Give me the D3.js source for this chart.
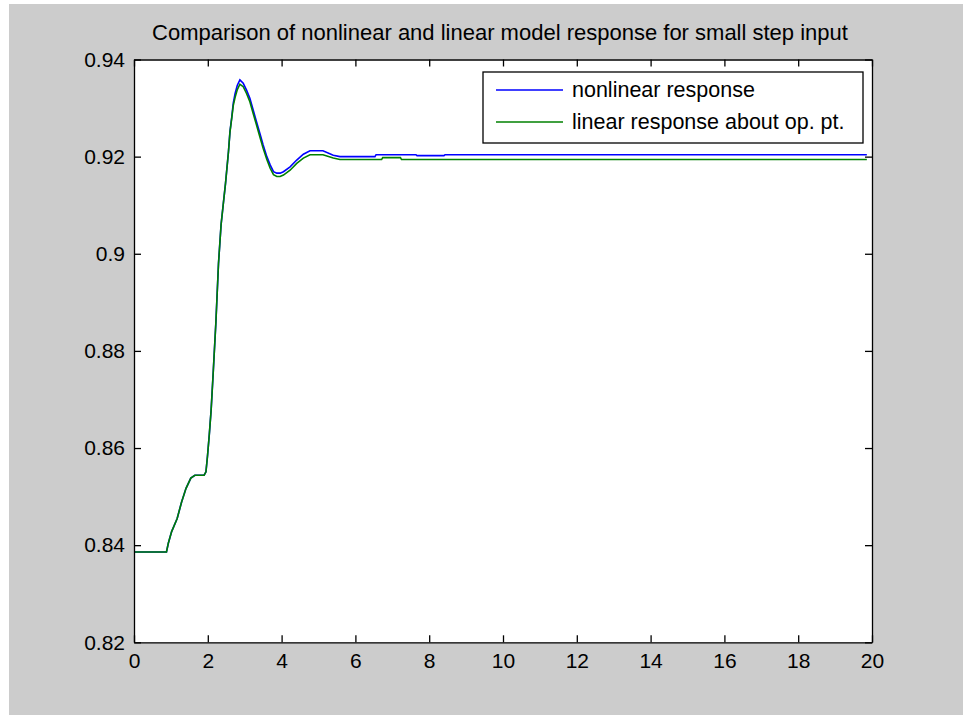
<!DOCTYPE html>
<html>
<head>
<meta charset="utf-8">
<script src="https://cdn.jsdelivr.net/npm/d3@7"></script>
<style>
body { margin: 0; background: #fff; }
text { font-family: "Liberation Sans", Arial, sans-serif; fill: #000; }
</style>
</head>
<body>
<div id="viz"></div>
<script>

// time axis and responses
var time_nl = [0, 0.88, 0.93, 1.02, 1.17, 1.29, 1.41, 1.54, 1.65, 1.90, 1.95, 1.99, 2.04, 2.09, 2.15, 2.22, 2.29, 2.36, 2.43, 2.48, 2.56, 2.60, 2.65, 2.69, 2.74, 2.80, 2.87, 2.96, 3.05, 3.14, 3.23, 3.32, 3.41, 3.50, 3.60, 3.69, 3.78, 3.87, 3.96, 4.05, 4.23, 4.41, 4.59, 4.77, 5.12, 5.40, 5.58, 6.53, 6.56, 7.64, 7.67, 8.40, 8.43, 19.86];
var nonlinear = [0.8386, 0.8386, 0.8404, 0.8428, 0.8455, 0.8489, 0.8517, 0.8538, 0.8544, 0.8544, 0.8551, 0.8582, 0.8627, 0.8678, 0.8760, 0.8860, 0.8980, 0.9060, 0.9110, 0.9145, 0.9210, 0.9251, 0.9282, 0.9310, 0.9330, 0.9347, 0.9358, 0.9351, 0.9337, 0.9320, 0.9296, 0.9272, 0.9248, 0.9224, 0.9200, 0.9183, 0.9169, 0.9166, 0.9166, 0.9169, 0.9179, 0.9193, 0.9205, 0.9212, 0.9212, 0.9203, 0.9200, 0.9200, 0.9204, 0.9204, 0.9202, 0.9202, 0.9204, 0.9204];

var time_lin = [0, 0.88, 0.93, 1.02, 1.17, 1.29, 1.41, 1.54, 1.65, 1.90, 1.95, 1.99, 2.04, 2.09, 2.15, 2.22, 2.29, 2.36, 2.43, 2.48, 2.56, 2.60, 2.65, 2.69, 2.74, 2.80, 2.87, 2.96, 3.05, 3.14, 3.23, 3.32, 3.41, 3.50, 3.60, 3.69, 3.78, 3.87, 3.96, 4.05, 4.23, 4.41, 4.59, 4.77, 5.12, 5.40, 5.58, 6.71, 6.74, 7.22, 7.25, 19.86];
var linear = [0.8386, 0.8386, 0.8404, 0.8428, 0.8455, 0.8489, 0.8517, 0.8538, 0.8544, 0.8544, 0.8551, 0.8582, 0.8627, 0.8678, 0.8760, 0.8860, 0.8980, 0.9060, 0.9110, 0.9145, 0.9210, 0.9250, 0.9280, 0.9305, 0.9322, 0.9338, 0.9349, 0.9344, 0.9330, 0.9313, 0.9289, 0.9265, 0.9241, 0.9217, 0.9194, 0.9176, 0.9163, 0.9159, 0.9159, 0.9162, 0.9172, 0.9186, 0.9197, 0.9204, 0.9204, 0.9197, 0.9194, 0.9194, 0.9198, 0.9198, 0.9194, 0.9194];

var x_ticks = [0, 2, 4, 6, 8, 10, 12, 14, 16, 18, 20];
var y_ticks = [0.82, 0.84, 0.86, 0.88, 0.9, 0.92, 0.94];
var series_names = ["nonlinear response", "linear response about op. pt."];
var series_colors = ["#0000ff", "#008000"];

var viz = { width: 963, height: 715 };
var plot = { left: 134, right: 872, top: 59.5, bottom: 642.3 };

var svg = d3.select("#viz")
	.append("svg")
	.attr("width", viz.width)
	.attr("height", viz.height);

// grey figure background
svg.append("rect")
	.attr("x", 9).attr("y", 4)
	.attr("width", viz.width - 9).attr("height", viz.height - 4)
	.attr("fill", "#cccccc");

svg.append("rect")
	.attr("x", plot.left).attr("y", plot.top)
	.attr("width", plot.right - plot.left).attr("height", plot.bottom - plot.top)
	.attr("fill", "#fff");

var x = d3.scaleLinear().domain([0, 20]).range([plot.left, plot.right]);
var y = d3.scaleLinear().domain([0.82, 0.94]).range([plot.bottom, plot.top]);

var line = d3.line()
	.x(function(d) { return x(d[0]) })
	.y(function(d) { return y(d[1]) });

var lin_pts = time_lin.map(function(t, i) { return [t, linear[i]] });
var nl_pts = time_nl.map(function(t, i) { return [t, nonlinear[i]] });

svg.append("path")
	.attr("d", line(nl_pts))
	.attr("fill", "none")
	.attr("stroke", series_colors[0])
	.attr("stroke-width", 1.6);

svg.append("path")
	.attr("d", line(lin_pts))
	.attr("fill", "none")
	.attr("stroke", series_colors[1])
	.attr("stroke-width", 1.6);

// axes, ticks inward on all four sides
var tl = 7;
svg.append("g")
	.attr("transform", "translate(0," + plot.bottom + ")")
	.call(d3.axisBottom(x).tickValues(x_ticks).tickSizeInner(-tl).tickSizeOuter(0).tickPadding(11).tickFormat(d3.format("d")));
svg.append("g")
	.attr("transform", "translate(0," + plot.top + ")")
	.call(d3.axisTop(x).tickValues(x_ticks).tickSizeInner(-tl).tickSizeOuter(0).tickFormat(""));
svg.append("g")
	.attr("transform", "translate(" + plot.left + ",0)")
	.call(d3.axisLeft(y).tickValues(y_ticks).tickSizeInner(-tl).tickSizeOuter(0).tickPadding(9).tickFormat(function(d) { return d3.format("")(+d.toFixed(2)) }));
svg.append("g")
	.attr("transform", "translate(" + plot.right + ",0)")
	.call(d3.axisRight(y).tickValues(y_ticks).tickSizeInner(-tl).tickSizeOuter(0).tickFormat(""));

svg.selectAll(".domain").attr("stroke", "#000").attr("stroke-width", 1.3);
svg.selectAll(".tick line").attr("stroke", "#000").attr("stroke-width", 1.3);
svg.selectAll(".tick text").attr("font-size", 21).attr("font-family", "Liberation Sans, Arial, sans-serif").attr("fill", "#000");

svg.append("text")
	.attr("x", 500)
	.attr("y", 40)
	.attr("text-anchor", "middle")
	.attr("font-size", 22)
	.text("Comparison of nonlinear and linear model response for small step input");

// legend
var lg = svg.append("g").attr("transform", "translate(483,72)");
lg.append("rect")
	.attr("width", 380).attr("height", 71)
	.attr("fill", "#fff")
	.attr("stroke", "#000")
	.attr("stroke-width", 1.3);
lg.selectAll(".lgline")
	.data(series_names).enter()
	.append("line")
	.attr("x1", 13).attr("x2", 80)
	.attr("y1", function(d, i) { return 18 + i * 32 })
	.attr("y2", function(d, i) { return 18 + i * 32 })
	.attr("stroke", function(d, i) { return series_colors[i] })
	.attr("stroke-width", 1.5);
lg.selectAll(".lgtext")
	.data(series_names).enter()
	.append("text")
	.attr("x", 89)
	.attr("y", function(d, i) { return 18 + i * 32 + 7 })
	.attr("font-size", 21.5)
	.text(function(d) { return d });

</script>
</body>
</html>
